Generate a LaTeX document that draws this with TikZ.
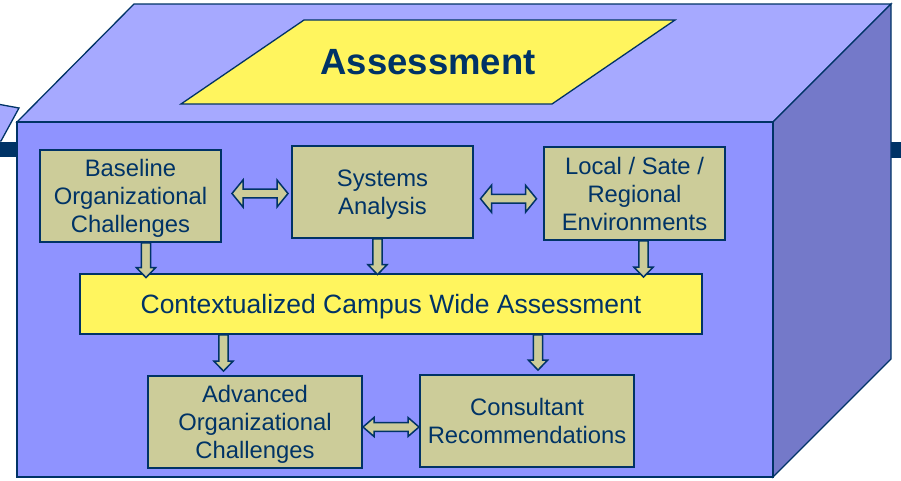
\documentclass[tikz,border=0pt]{standalone}
\usepackage{fontspec}
\setmainfont{Liberation Sans}
\usetikzlibrary{calc}
\definecolor{navy}{HTML}{003366}
\definecolor{topface}{HTML}{A6A9FF}
\definecolor{frontface}{HTML}{8F93FF}
\definecolor{sideface}{HTML}{7479C9}
\definecolor{tan}{HTML}{CCCC99}
\definecolor{yel}{HTML}{FFF55E}
\tikzset{
  face/.style={draw=navy, line width=1.3pt, line join=miter},
  tanbox/.style={draw=navy, line width=1.8pt, fill=tan, text=navy, align=center,
    font=\fontsize{23.8}{28}\selectfont, inner sep=0pt, text depth=0pt},
  yelbox/.style={draw=navy, line width=1.8pt, fill=yel, text=navy, align=center,
    font=\fontsize{26.5}{30}\selectfont, inner sep=0pt, text depth=0pt},
  blockarrow/.style={draw=navy, line width=1.5pt, fill=tan, line join=miter},
}
% down block arrow: #1 x-position, #2 start anchor, #3 target anchor, #4 tip offset
\newcommand\vblock[4]{%
  \coordinate (vt) at (#1 |- #2);
  \coordinate (vq) at (#1 |- #3);
  \coordinate (vb) at ($(vq)+(0,#4)$);
  \draw[blockarrow] ($(vt)+(-4.6,0)$) -- ($(vb)+(-4.6,-10)$) -- ($(vb)+(-9.6,-10)$) -- (vb)
    -- ($(vb)+(9.6,-10)$) -- ($(vb)+(4.6,-10)$) -- ($(vt)+(4.6,0)$) -- cycle;}
% horizontal double block arrow between two nodes: #1 left node, #2 right node, #3 shift, #4 head half height, #5 shaft half height
\newcommand\hblock[5]{%
  \coordinate (hc) at ($(#1.east)!0.5!(#2.west)+#3$);
  \draw[blockarrow] ($(hc)+(-28,0)$) -- ($(hc)+(-17,-#4)$) -- ($(hc)+(-17,-#5)$)
    -- ($(hc)+(17,-#5)$) -- ($(hc)+(17,-#4)$) -- ($(hc)+(28,0)$) -- ($(hc)+(17,#4)$)
    -- ($(hc)+(17,#5)$) -- ($(hc)+(-17,#5)$) -- ($(hc)+(-17,#4)$) -- cycle;}
\begin{document}
\begin{tikzpicture}[x=1pt,y=-1pt]
\useasboundingbox (0,0) rectangle (901,480);
\clip (0,0) rectangle (901,480);
\fill[white] (0,0) rectangle (901,480);
% partial shape at left edge
\draw[face, fill=topface] (-30,99) -- (19,108) -- (1,141) -- (-50,141) -- cycle;
% dark bars behind box
\fill[navy] (-2,142) rectangle (20,157);
\fill[navy] (888,142) rectangle (903,158);
% 3D box
\draw[face, fill=topface] (17,122) -- (134,4) -- (891,4) -- (773,122) -- cycle;
\draw[face, fill=sideface] (773,122) -- (891,4) -- (891,359) -- (773,477) -- cycle;
\draw[face, fill=frontface] (17,122) rectangle (773,477);
% title parallelogram
\draw[draw=navy, line width=1.3pt, fill=yel] (304,20) -- (675,20) -- (552,104) -- (181,104) -- cycle;
\node[text=navy, font=\fontsize{36.5}{40}\selectfont\bfseries, text depth=0pt] (title) at (428,62) {Assessment};
% boxes
\node[tanbox, minimum width=181pt, minimum height=92pt] (base) at (130.5,196)
  {Baseline\\Organizational\\Challenges};
\node[tanbox, minimum width=181pt, minimum height=92pt] (sys) at (382.5,192)
  {Systems\\Analysis};
\node[tanbox, minimum width=181pt, minimum height=93pt] (loc) at (634.5,193.5)
  {Local / Sate /\\Regional\\Environments};
\node[yelbox, minimum width=622pt, minimum height=60pt] (ctx) at (391,304)
  {Contextualized Campus Wide Assessment};
\node[tanbox, minimum width=214pt, minimum height=92pt] (adv) at (255,422)
  {Advanced\\Organizational\\Challenges};
\node[tanbox, minimum width=214pt, minimum height=92pt] (cons) at (527,421)
  {Consultant\\Recommendations};
% horizontal double arrows
\hblock{base}{sys}{(3.5,-0.5)}{13.5}{4.3}
\hblock{sys}{loc}{(0,6)}{13.5}{4.3}
\hblock{adv}{cons}{(0,5.5)}{9.5}{4.3}
% down arrows
\coordinate (x1) at (146,0);
\coordinate (x2) at (377.5,0);
\coordinate (x3) at (643.5,0);
\coordinate (x4) at (223.5,0);
\coordinate (x5) at (538,0);
\vblock{x1}{base.south}{ctx.north}{4.5}
\vblock{x2}{sys.south}{ctx.north}{1.5}
\vblock{x3}{loc.south}{ctx.north}{4}
\vblock{x4}{ctx.south}{adv.north}{-4}
\vblock{x5}{ctx.south}{cons.north}{-4}
\end{tikzpicture}
\end{document}
